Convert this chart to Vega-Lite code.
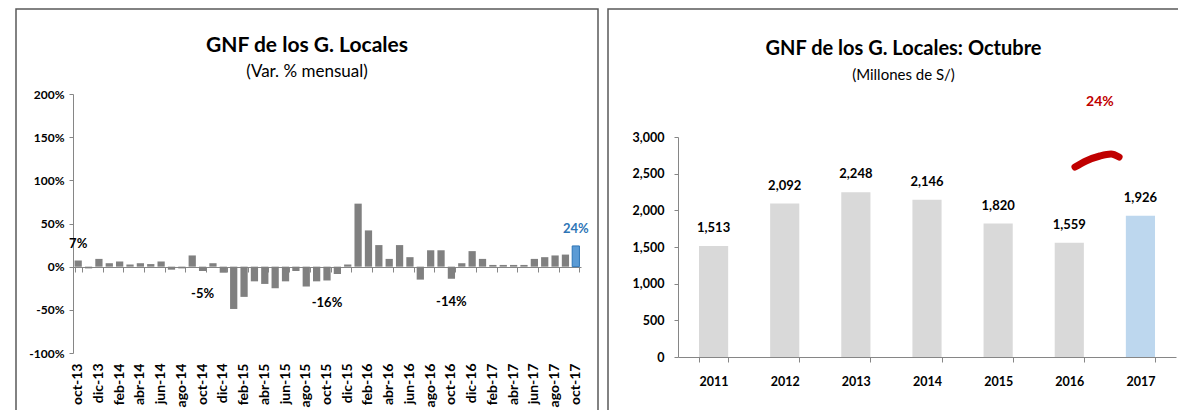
{
  "$schema": "https://vega.github.io/schema/vega-lite/v6.json",
  "background": "white",
  "padding": {"left": 15, "top": 8, "right": 0, "bottom": 0},
  "spacing": 8,
  "config": {
    "font": "Lato",
    "view": {"stroke": "#595959", "strokeWidth": 1.5},
    "axis": {"labelFont": "Lato", "labelFontWeight": "bold", "labelColor": "#000000", "domainColor": "#868686", "tickColor": "#868686", "title": null, "grid": false}
  },
  "hconcat": [
    {
      "width": 582,
      "height": 420,
      "title": {"text": "GNF de los G. Locales", "subtitle": "(Var. % mensual)", "font": "Lato", "fontSize": 21, "fontWeight": "bold", "color": "#000000", "subtitleFont": "Lato", "subtitleFontSize": 17, "subtitleColor": "#000000", "anchor": "middle", "frame": "group", "offset": -71, "subtitlePadding": 8},
      "data": {"values": [
        {"m": "oct-13", "v": 7}, {"m": "nov-13", "v": -2}, {"m": "dic-13", "v": 9}, {"m": "ene-14", "v": 4},
        {"m": "feb-14", "v": 6}, {"m": "mar-14", "v": 2.5}, {"m": "abr-14", "v": 4}, {"m": "may-14", "v": 3},
        {"m": "jun-14", "v": 6}, {"m": "jul-14", "v": -3.5}, {"m": "ago-14", "v": -2}, {"m": "sep-14", "v": 13},
        {"m": "oct-14", "v": -5}, {"m": "nov-14", "v": 4}, {"m": "dic-14", "v": -7}, {"m": "ene-15", "v": -49},
        {"m": "feb-15", "v": -35}, {"m": "mar-15", "v": -17}, {"m": "abr-15", "v": -20}, {"m": "may-15", "v": -25},
        {"m": "jun-15", "v": -17}, {"m": "jul-15", "v": -5}, {"m": "ago-15", "v": -23}, {"m": "sep-15", "v": -17},
        {"m": "oct-15", "v": -16}, {"m": "nov-15", "v": -8.5}, {"m": "dic-15", "v": 2.5}, {"m": "ene-16", "v": 73},
        {"m": "feb-16", "v": 42}, {"m": "mar-16", "v": 25}, {"m": "abr-16", "v": 9}, {"m": "may-16", "v": 25},
        {"m": "jun-16", "v": 11}, {"m": "jul-16", "v": -15}, {"m": "ago-16", "v": 19}, {"m": "sep-16", "v": 19},
        {"m": "oct-16", "v": -14}, {"m": "nov-16", "v": 4}, {"m": "dic-16", "v": 18}, {"m": "ene-17", "v": 9},
        {"m": "feb-17", "v": 2}, {"m": "mar-17", "v": 2}, {"m": "abr-17", "v": 2}, {"m": "may-17", "v": 2},
        {"m": "jun-17", "v": 9}, {"m": "jul-17", "v": 11}, {"m": "ago-17", "v": 13}, {"m": "sep-17", "v": 14},
        {"m": "oct-17", "v": 24}
      ]},
      "encoding": {
        "y": {"field": "v", "type": "quantitative",
          "scale": {"domain": [-100, 200], "range": [344, 85], "nice": false, "zero": false},
          "axis": {"orient": "left", "offset": -57, "values": [-100, -50, 0, 50, 100, 150, 200], "labelExpr": "datum.value + '%'", "labelFontSize": 12, "tickSize": 4, "labelPadding": 5}}
      },
      "layer": [
        {
          "mark": {"type": "bar", "stroke": "#2E75B6"},
          "encoding": {
            "x": {"field": "m", "type": "ordinal",
              "scale": {"domain": ["oct-13","nov-13","dic-13","ene-14","feb-14","mar-14","abr-14","may-14","jun-14","jul-14","ago-14","sep-14","oct-14","nov-14","dic-14","ene-15","feb-15","mar-15","abr-15","may-15","jun-15","jul-15","ago-15","sep-15","oct-15","nov-15","dic-15","ene-16","feb-16","mar-16","abr-16","may-16","jun-16","jul-16","ago-16","sep-16","oct-16","nov-16","dic-16","ene-17","feb-17","mar-17","abr-17","may-17","jun-17","jul-17","ago-17","sep-17","oct-17"], "range": [57, 565], "paddingInner": 0.3, "paddingOuter": 0.15},
              "axis": {"orient": "bottom", "offset": -76, "domain": false, "ticks": false, "labelAngle": -90, "labelFontSize": 14, "labelPadding": 10,
                "values": ["oct-13","dic-13","feb-14","abr-14","jun-14","ago-14","oct-14","dic-14","feb-15","abr-15","jun-15","ago-15","oct-15","dic-15","feb-16","abr-16","jun-16","ago-16","oct-16","dic-16","feb-17","abr-17","jun-17","ago-17","oct-17"]}},
            "color": {"condition": {"test": "datum.m === 'oct-17'", "value": "#5B9BD5"}, "value": "#808080"},
            "strokeWidth": {"condition": {"test": "datum.m === 'oct-17'", "value": 1}, "value": 0}
          }
        },
        {
          "transform": [{"filter": "indexof(datum.m, 'oct') === 0 && datum.v > 0"}, {"calculate": "datum.v + '%'", "as": "lab"}],
          "mark": {"type": "text", "dy": -17, "fontSize": 13, "fontWeight": "bold", "font": "Lato"},
          "encoding": {
            "x": {"field": "m", "type": "ordinal",
              "axis": {"orient": "bottom", "offset": -162, "domain": true, "ticks": true, "tickBand": "extent", "tickSize": 5, "labels": false,
                "values": ["oct-13","dic-13","feb-14","abr-14","jun-14","ago-14","oct-14","dic-14","feb-15","abr-15","jun-15","ago-15","oct-15","dic-15","feb-16","abr-16","jun-16","ago-16","oct-16","dic-16","feb-17","abr-17","jun-17","ago-17","oct-17"]}},
            "text": {"field": "lab"},
            "color": {"condition": {"test": "datum.m === 'oct-17'", "value": "#2E75B6"}, "value": "#000000"}
          }
        },
        {
          "transform": [{"filter": "indexof(datum.m, 'oct') === 0 && datum.v < 0"}, {"calculate": "datum.v + '%'", "as": "lab"}],
          "mark": {"type": "text", "dy": 23, "fontSize": 13, "fontWeight": "bold", "font": "Lato", "color": "#000000"},
          "encoding": {
            "x": {"field": "m", "type": "ordinal", "axis": null},
            "text": {"field": "lab"}
          }
        }
      ],
      "resolve": {"axis": {"x": "independent"}}
    },
    {
      "width": 571,
      "height": 420,
      "title": {"text": "GNF de los G. Locales: Octubre", "subtitle": "(Millones de S/)", "font": "Lato", "fontSize": 20, "fontWeight": "bold", "color": "#000000", "subtitleFont": "Lato", "subtitleFontSize": 15, "subtitleColor": "#000000", "anchor": "middle", "frame": "group", "offset": -74, "dx": 10, "subtitlePadding": 9},
      "encoding": {
        "y": {"field": "val", "type": "quantitative",
          "scale": {"domain": [0, 3000], "range": [348, 128], "nice": false},
          "axis": {"orient": "left", "offset": -70, "values": [0, 500, 1000, 1500, 2000, 2500, 3000], "labelExpr": "format(datum.value, ',.0f')", "labelFontSize": 12.5, "tickSize": 4, "labelPadding": 10}}
      },
      "layer": [
        {
          "data": {"values": [
            {"year": "2011", "val": 1513}, {"year": "2012", "val": 2092}, {"year": "2013", "val": 2248},
            {"year": "2014", "val": 2146}, {"year": "2015", "val": 1820}, {"year": "2016", "val": 1559},
            {"year": "2017", "val": 1926}
          ]},
          "encoding": {
            "x": {"field": "year", "type": "ordinal",
              "scale": {"domain": ["2011","2012","2013","2014","2015","2016","2017"], "range": [70, 568], "paddingInner": 0.59, "paddingOuter": 0.295},
              "axis": {"orient": "bottom", "offset": -72, "tickBand": "extent", "tickSize": 5, "labelAngle": 0, "labelFontSize": 12.5, "labelPadding": 13}}
          },
          "layer": [
            {
              "mark": {"type": "bar"},
              "encoding": {"color": {"condition": {"test": "datum.year === '2017'", "value": "#BDD7EE"}, "value": "#D9D9D9"}}
            },
            {
              "mark": {"type": "text", "dy": -18, "fontSize": 13, "fontWeight": "bold", "font": "Lato", "color": "#000000"},
              "encoding": {"text": {"field": "val", "type": "quantitative", "format": ","}}
            }
          ]
        },
        {
          "data": {"values": [
            {"ax": 5.58, "val": 2591}, {"ax": 5.735, "val": 2673}, {"ax": 5.93, "val": 2741},
            {"ax": 6.087, "val": 2768}, {"ax": 6.2, "val": 2727}
          ]},
          "layer": [
            {
              "mark": {"type": "line", "color": "#C00000", "strokeWidth": 7, "strokeCap": "round", "interpolate": "monotone"},
              "encoding": {
                "x": {"field": "ax", "type": "quantitative", "scale": {"domain": [0, 7], "range": [70, 568], "nice": false, "zero": false}, "axis": null}
              }
            }
          ]
        },
        {
          "data": {"values": [{"ax": 5.93, "val": 3477, "t": "24%"}]},
          "mark": {"type": "text", "fontSize": 14, "fontWeight": "bold", "font": "Lato", "color": "#C00000", "baseline": "middle"},
          "encoding": {
            "x": {"field": "ax", "type": "quantitative", "scale": {"domain": [0, 7], "range": [70, 568], "nice": false, "zero": false}, "axis": null},
            "text": {"field": "t"}
          }
        }
      ],
      "resolve": {"scale": {"x": "independent"}}
    }
  ]
}
